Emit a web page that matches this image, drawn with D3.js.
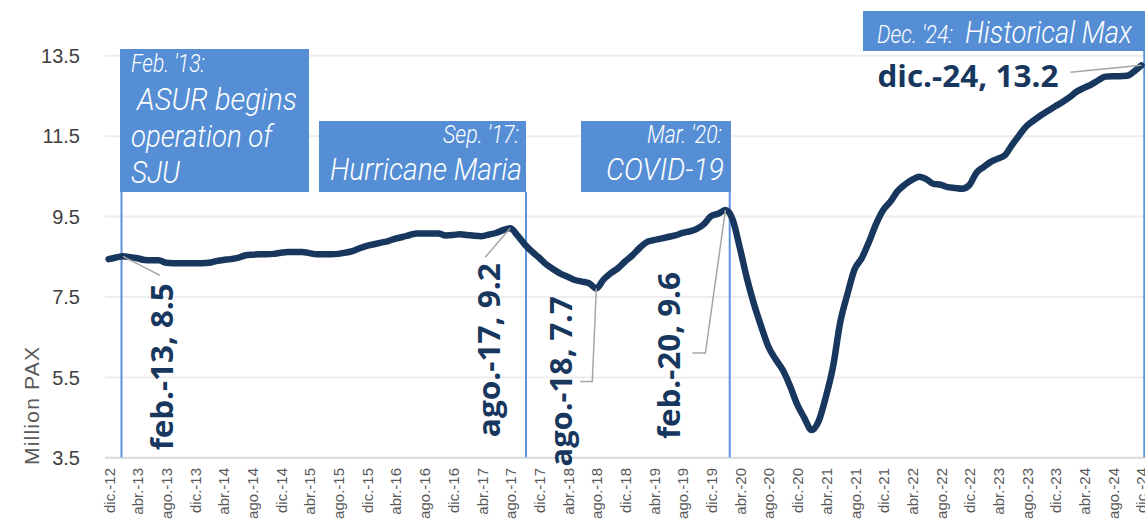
<!DOCTYPE html>
<html>
<head>
<meta charset="utf-8">
<title>SJU PAX</title>
<script src="https://cdn.jsdelivr.net/npm/d3@7"></script>
<style>
  body{margin:0;background:#fff;}
  svg{display:block;}
  .ylab{font-family:"Liberation Sans",Arial,sans-serif;font-size:20px;fill:#404040;}
  .xlab{font-family:"Liberation Sans",Arial,sans-serif;font-size:15px;fill:#595959;}
  .ptlab{font-family:"Open Sans","Noto Sans",sans-serif;font-weight:700;font-size:31px;fill:#17375e;}
  .evt{font-family:Roboto,"Liberation Sans",sans-serif;font-weight:300;font-style:italic;fill:#fff;}
</style>
</head>
<body>
<svg id="chart" width="1145" height="522"></svg>
<script>
// rolling 12-month passengers (million), monthly from dic-12 to dic-24
var dec12 = [8.43];
var y2013 = [8.47, 8.50, 8.48, 8.45, 8.41, 8.40, 8.40, 8.34, 8.33, 8.33, 8.33, 8.33];
var y2014 = [8.33, 8.34, 8.38, 8.41, 8.43, 8.46, 8.52, 8.54, 8.55, 8.55, 8.56, 8.59];
var y2015 = [8.61, 8.61, 8.61, 8.58, 8.55, 8.55, 8.55, 8.56, 8.59, 8.63, 8.70, 8.76];
var y2016 = [8.80, 8.84, 8.88, 8.94, 8.98, 9.03, 9.07, 9.07, 9.07, 9.07, 9.02, 9.03];
var y2017 = [9.05, 9.03, 9.01, 9.00, 9.04, 9.08, 9.15, 9.20, 9.02, 8.80, 8.62, 8.47];
var y2018 = [8.30, 8.18, 8.07, 7.99, 7.91, 7.87, 7.83, 7.70, 7.92, 8.08, 8.20, 8.37];
var y2019 = [8.52, 8.70, 8.85, 8.90, 8.94, 8.98, 9.02, 9.08, 9.12, 9.18, 9.30, 9.50];
var y2020 = [9.56, 9.65, 9.42, 8.72, 7.95, 7.30, 6.75, 6.25, 5.94, 5.67, 5.28, 4.82];
var y2021 = [4.48, 4.18, 4.40, 5.00, 5.75, 6.85, 7.55, 8.17, 8.45, 8.85, 9.30, 9.65];
var y2022 = [9.86, 10.12, 10.28, 10.40, 10.48, 10.42, 10.30, 10.28, 10.22, 10.20, 10.18, 10.27];
var y2023 = [10.58, 10.72, 10.85, 10.93, 11.02, 11.28, 11.52, 11.74, 11.88, 12.01, 12.12, 12.23];
var y2024 = [12.34, 12.46, 12.60, 12.69, 12.77, 12.88, 12.97, 12.98, 12.98, 12.99, 13.10, 13.25];

var values = dec12.concat(y2013, y2014, y2015, y2016, y2017, y2018, y2019, y2020, y2021, y2022, y2023, y2024);

var tickLabels = ["dic.-12","abr.-13","ago.-13","dic.-13","abr.-14","ago.-14","dic.-14",
  "abr.-15","ago.-15","dic.-15","abr.-16","ago.-16","dic.-16","abr.-17","ago.-17","dic.-17",
  "abr.-18","ago.-18","dic.-18","abr.-19","ago.-19","dic.-19","abr.-20","ago.-20","dic.-20",
  "abr.-21","ago.-21","dic.-21","abr.-22","ago.-22","dic.-22","abr.-23","ago.-23","dic.-23",
  "abr.-24","ago.-24","dic.-24"];
var yTicks = [3.5, 5.5, 7.5, 9.5, 11.5, 13.5];

// data labels: month index and text
var ptIdx   = [2, 56, 68, 86, 144];
var ptText  = ["feb.-13, 8.5", "ago.-17, 9.2", "ago.-18, 7.7", "feb.-20, 9.6", "dic.-24, 13.2"];

// event markers (month index where the blue line is drawn)
var evtPos  = [1.8, 58.2, 86.6, 144.4];

var svg = d3.select("#chart");
var x = d3.scaleLinear().domain([0, 144]).range([108.6, 1141.4]);
var y = d3.scaleLinear().domain([3.5, 13.5]).range([457.3, 55.3]);

// grid + y labels
var yAxis = d3.axisLeft(y).tickValues(yTicks).tickSize(-1040).tickPadding(25)
  .tickFormat(d3.format(".1f"));
var gy = svg.append("g").attr("transform", "translate(105,0)").call(yAxis);
gy.select(".domain").remove();
gy.selectAll(".tick line").attr("stroke", function(d){ return d == 3.5 ? "#d9d9d9" : "#ededed"; })
  .attr("stroke-width", 2);
gy.selectAll(".tick text").attr("class", "ylab").attr("dy", "0.36em");

svg.append("text").attr("class", "ylab")
  .attr("transform", "translate(39,406) rotate(-90)")
  .attr("text-anchor", "middle")
  .attr("textLength", 118)
  .style("fill", "#595959").style("font-size", "21px")
  .text("Million PAX");

// x labels every 4 months
svg.append("g").selectAll("text")
  .data(tickLabels)
  .enter().append("text")
  .attr("class", "xlab")
  .attr("text-anchor", "end")
  .attr("transform", function(d, i){ return "translate(" + (x(i * 4) + 6) + ",468) rotate(-90)"; })
  .text(function(d){ return d; });

// event vertical lines
var evtTop = [192, 192, 192, 51];
svg.append("g").selectAll("line")
  .data(evtPos)
  .enter().append("line")
  .attr("x1", function(d){ return x(d); })
  .attr("x2", function(d){ return x(d); })
  .attr("y1", function(d, i){ return evtTop[i]; })
  .attr("y2", y(3.5))
  .attr("stroke", "#5b93db")
  .attr("stroke-width", 2);

// main line
var line = d3.line()
  .x(function(d, i){ return x(i); })
  .y(function(d){ return y(d); })
  .curve(d3.curveMonotoneX);
svg.append("path")
  .datum(values)
  .attr("d", line)
  .attr("fill", "none")
  .attr("stroke", "#17375e")
  .attr("stroke-width", 6.5)
  .attr("stroke-linejoin", "round")
  .attr("stroke-linecap", "round");

// leader lines (offsets from the data point)
var leaders = [
  [[0,0],[37,19]],
  [[0,0],[-25,29]],
  [[0,0],[-4,93],[-16,93]],
  [[0,0],[-20,143],[-33,143]],
  [[0,0],[-71,7]]
];
svg.append("g").selectAll("path")
  .data(ptIdx)
  .enter().append("path")
  .attr("fill", "none")
  .attr("stroke", "#a6a6a6")
  .attr("stroke-width", 1.5)
  .attr("d", function(d, i){
    var px = x(d), py = y(values[d]);
    return d3.line()(leaders[i].map(function(o){ return [px + o[0], py + o[1]]; }));
  });

// point labels: [dx, dy, rotated, length]
var ptPlace = [[50,194,true,167],[-10,209,true,174],[-24,178,true,170],[-45,229,true,167],[-83,22,false,181]];
svg.append("g").selectAll("text")
  .data(ptIdx)
  .enter().append("text")
  .attr("class", "ptlab")
  .attr("text-anchor", function(d, i){ return ptPlace[i][2] ? "start" : "end"; })
  .attr("textLength", function(d, i){ return ptPlace[i][3]; })
  .attr("lengthAdjust", "spacingAndGlyphs")
  .attr("transform", function(d, i){
    var p = ptPlace[i];
    return "translate(" + (x(d) + p[0]) + "," + (y(values[d]) + p[1]) + ")" + (p[2] ? " rotate(-90)" : "");
  })
  .text(function(d, i){ return ptText[i]; });

// event boxes
var boxes = [
  {r:[120,49,309,192], lines:[
    {t:"Feb. '13:", x:131, y:72, s:25, len:74, a:"start"},
    {t:"ASUR begins", x:137, y:110, s:32, len:160, a:"start"},
    {t:"operation of", x:131, y:147, s:32, len:141, a:"start"},
    {t:"SJU", x:131, y:183, s:32, len:49, a:"start"}]},
  {r:[319,121,526,192], lines:[
    {t:"Sep. '17:", x:519, y:143, s:25, len:76, a:"end"},
    {t:"Hurricane Maria", x:522, y:180, s:32, len:192, a:"end"}]},
  {r:[581,121,731,192], lines:[
    {t:"Mar. '20:", x:722, y:143, s:25, len:75, a:"end"},
    {t:"COVID-19", x:724, y:180, s:32, len:118, a:"end"}]},
  {r:[863,11,1145,51], lines:[
    {t:"Dec. '24:", x:877, y:43, s:25, len:76, a:"start"},
    {t:"Historical Max", x:965, y:43, s:31, len:167, a:"start"}]}
];
var bg = svg.append("g").selectAll("g").data(boxes).enter().append("g");
bg.append("rect")
  .attr("x", function(d){ return d.r[0]; })
  .attr("y", function(d){ return d.r[1]; })
  .attr("width", function(d){ return d.r[2] - d.r[0]; })
  .attr("height", function(d){ return d.r[3] - d.r[1]; })
  .attr("fill", "#558ed5");
bg.selectAll("text").data(function(d){ return d.lines; })
  .enter().append("text")
  .attr("class", "evt")
  .attr("x", function(d){ return d.x; })
  .attr("y", function(d){ return d.y; })
  .attr("text-anchor", function(d){ return d.a; })
  .attr("textLength", function(d){ return d.len; })
  .attr("lengthAdjust", "spacingAndGlyphs")
  .style("font-size", function(d){ return d.s + "px"; })
  .text(function(d){ return d.t; });
</script>
</body>
</html>
